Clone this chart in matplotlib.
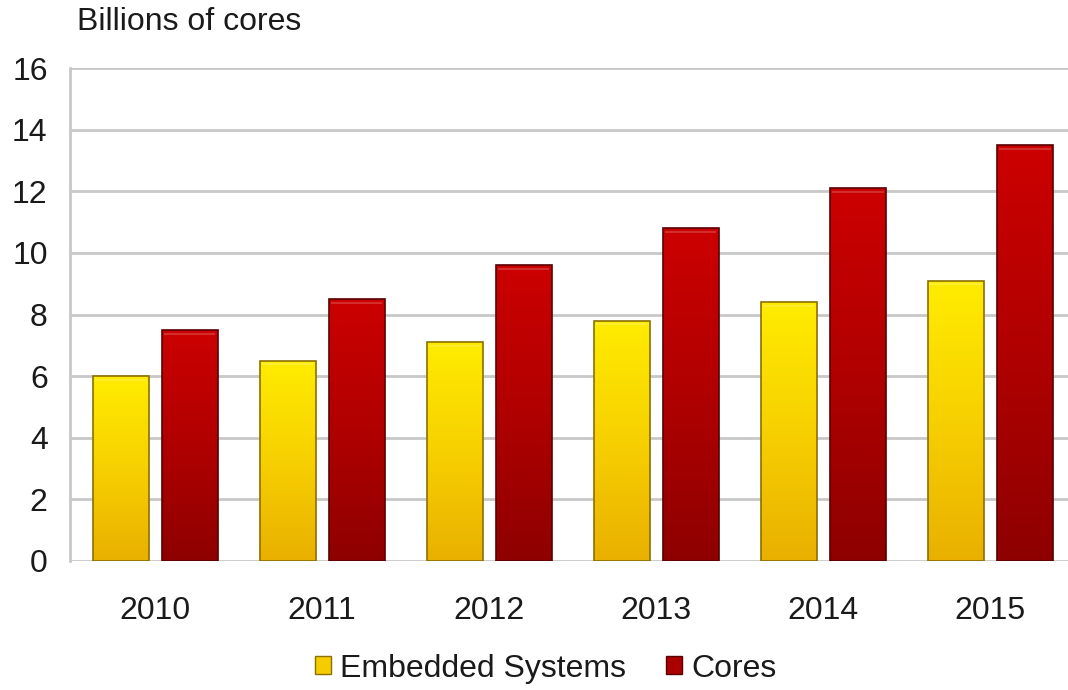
import numpy as np
import matplotlib.pyplot as plt
from matplotlib.colors import LinearSegmentedColormap
from matplotlib.patches import Patch

plt.rcParams['font.family'] = ['Liberation Sans', 'DejaVu Sans']

years = ['2010', '2011', '2012', '2013', '2014', '2015']
embedded = [6.0, 6.5, 7.1, 7.8, 8.4, 9.1]
cores = [7.5, 8.5, 9.6, 10.8, 12.1, 13.5]

yellow_cm = LinearSegmentedColormap.from_list('yel', ['#e9b000', '#f7d000', '#ffec00'])
red_cm = LinearSegmentedColormap.from_list('red', ['#8e0000', '#b00000', '#cc0000'])

fig = plt.figure(figsize=(10.68, 6.9), dpi=100)
ax = fig.add_axes([0.0655, 0.187, 0.94, 0.7143])

x = np.arange(len(years))
w = 0.335
off = 0.207


def gradient_bars(xs, vals, cmap, edge):
    bars = ax.bar(xs, vals, w, color='none', edgecolor=edge, linewidth=1.2, zorder=3)
    for b in bars:
        x0, y0 = b.get_x(), b.get_y()
        h = b.get_height()
        grad = np.linspace(0, 1, 256).reshape(-1, 1)
        im = ax.imshow(grad, cmap=cmap, origin='lower', aspect='auto',
                       extent=[x0, x0 + w, y0, y0 + h], zorder=2)
        im.set_clip_path(b)
        # light bevel just under the top edge
        ax.plot([x0 + 0.02, x0 + w - 0.02], [y0 + h - 0.12] * 2,
                color='white', alpha=0.18, linewidth=1.5, zorder=3)
    return bars


gradient_bars(x - off, embedded, yellow_cm, '#8a7000')
gradient_bars(x + off, cores, red_cm, '#5a0000')

ax.set_xlim(-0.51, 5.5)
ax.set_ylim(0, 16)
ax.set_yticks(range(0, 17, 2))
ax.set_xticks(x)
ax.set_xticklabels(years)
ax.grid(axis='y', color='#c8c8c8', linewidth=2, zorder=0)
ax.set_axisbelow(True)
for s in ['top', 'right', 'bottom']:
    ax.spines[s].set_visible(False)
ax.spines['left'].set_color('#c8c8c8')
ax.spines['left'].set_linewidth(2)
ax.tick_params(axis='both', length=0, labelsize=23, colors='#1a1a1a')
ax.tick_params(axis='y', pad=16)
ax.tick_params(axis='x', pad=25)

fig.text(0.072, 0.968, 'Billions of cores', fontsize=23, color='#1a1a1a', va='center')

handles = [Patch(facecolor='#f5cc00', edgecolor='#8a7000', label='Embedded Systems'),
           Patch(facecolor='#aa0000', edgecolor='#5a0000', label='Cores')]
fig.legend(handles=handles, loc='center', bbox_to_anchor=(0.511, 0.031), ncol=2,
           frameon=False, fontsize=23, handlelength=0.5, handleheight=0.5,
           handletextpad=0.3, columnspacing=1.25, labelcolor='#1a1a1a')

fig.savefig('out.png', dpi=100)
